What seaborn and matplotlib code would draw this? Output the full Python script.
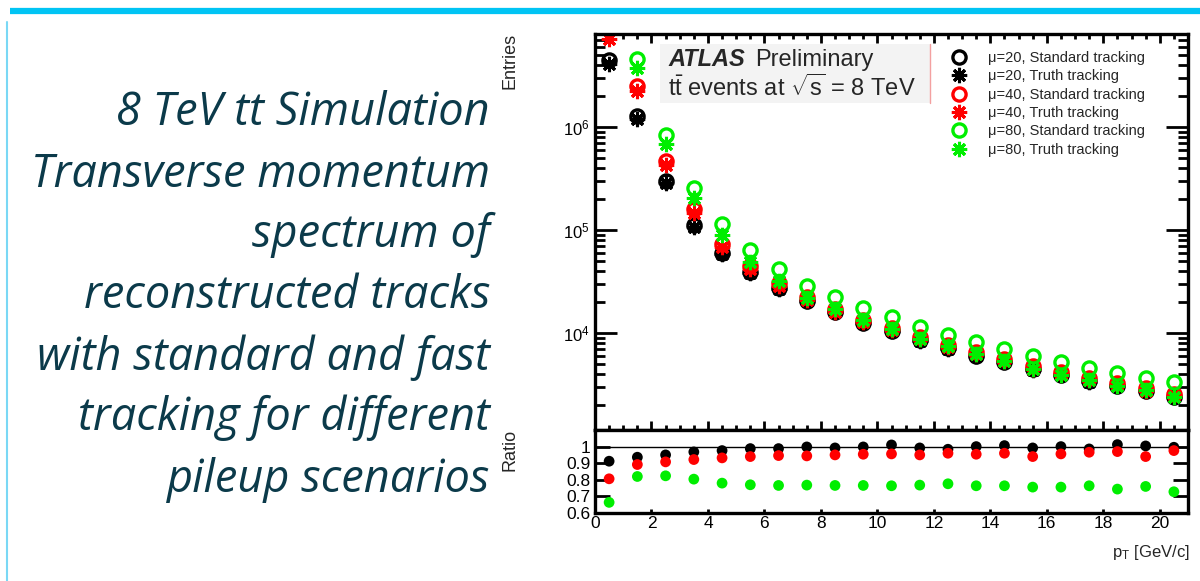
import matplotlib
matplotlib.use("Agg")
import matplotlib.pyplot as plt
import seaborn as sns
from matplotlib.lines import Line2D
from matplotlib.patches import Rectangle
from matplotlib.ticker import LogLocator, MultipleLocator, NullFormatter, FixedLocator, FixedFormatter, NullLocator

# ---------------- data ----------------
pt_centers = [0.5, 1.5, 2.5, 3.5, 4.5, 5.5, 6.5, 7.5, 8.5, 9.5, 10.5,
              11.5, 12.5, 13.5, 14.5, 15.5, 16.5, 17.5, 18.5, 19.5, 20.5]

std_mu20 = [4.47e6, 1.28e6, 2.99e5, 1.12e5, 5.98e4, 3.91e4, 2.74e4, 2.05e4, 1.60e4, 1.25e4, 1.04e4,
            8.55e3, 7.15e3, 5.98e3, 5.23e3, 4.47e3, 3.91e3, 3.42e3, 3.06e3, 2.73e3, 2.39e3]
truth_mu20 = [4.08e6, 1.20e6, 2.84e5, 1.08e5, 5.84e4, 3.86e4, 2.71e4, 2.05e4, 1.59e4, 1.25e4, 1.05e4,
              8.48e3, 7.04e3, 5.98e3, 5.26e3, 4.43e3, 3.91e3, 3.37e3, 3.10e3, 2.74e3, 2.38e3]
std_mu40 = [8.9e6, 2.50e6, 4.68e5, 1.60e5, 7.31e4, 4.47e4, 3.06e4, 2.24e4, 1.71e4, 1.34e4, 1.12e4,
            9.15e3, 7.64e3, 6.54e3, 5.60e3, 4.79e3, 4.18e3, 3.66e3, 3.27e3, 2.92e3, 2.56e3]
truth_mu40 = [7.15e6, 2.23e6, 4.25e5, 1.475e5, 6.81e4, 4.20e4, 2.89e4, 2.11e4, 1.62e4, 1.28e4, 1.07e4,
              8.69e3, 7.33e3, 6.24e3, 5.38e3, 4.50e3, 4.00e3, 3.54e3, 3.17e3, 2.74e3, 2.50e3]
std_mu80 = [1.5e7, 4.57e6, 8.36e5, 2.56e5, 1.14e5, 6.40e4, 4.18e4, 2.86e4, 2.24e4, 1.75e4, 1.43e4,
            1.14e4, 9.57e3, 8.18e3, 7.00e3, 5.98e3, 5.23e3, 4.57e3, 4.09e3, 3.66e3, 3.34e3]
truth_mu80 = [9.96e6, 3.75e6, 6.89e5, 2.06e5, 8.89e4, 4.93e4, 3.20e4, 2.20e4, 1.72e4, 1.34e4, 1.09e4,
              8.76e3, 7.43e3, 6.25e3, 5.35e3, 4.52e3, 3.95e3, 3.49e3, 3.04e3, 2.78e3, 2.43e3]

ratio_mu20 = [0.912, 0.936, 0.950, 0.968, 0.976, 0.988, 0.988, 0.998, 0.992, 0.998, 1.010,
              0.992, 0.984, 1.000, 1.006, 0.992, 1.000, 0.986, 1.012, 1.004, 0.996]
ratio_mu40 = [0.806, 0.892, 0.908, 0.922, 0.932, 0.940, 0.946, 0.944, 0.950, 0.954, 0.956,
              0.950, 0.960, 0.954, 0.960, 0.940, 0.956, 0.966, 0.970, 0.940, 0.976]
ratio_mu80 = [0.664, 0.820, 0.824, 0.804, 0.780, 0.770, 0.766, 0.768, 0.766, 0.766, 0.764,
              0.768, 0.776, 0.764, 0.764, 0.756, 0.756, 0.764, 0.744, 0.760, 0.728]

legend_labels = ["\u03bc=20, Standard tracking", "\u03bc=20, Truth tracking",
                 "\u03bc=40, Standard tracking", "\u03bc=40, Truth tracking",
                 "\u03bc=80, Standard tracking", "\u03bc=80, Truth tracking"]

ratio_ticks = [0.6, 0.7, 0.8, 0.9, 1.0]
ratio_ticklabels = ["0.6", "0.7", "0.8", "0.9", "1"]
x_ticks = [0, 2, 4, 6, 8, 10, 12, 14, 16, 18, 20]

slide_lines = ["8 TeV tt Simulation", "Transverse momentum", "spectrum of",
               "reconstructed tracks", "with standard and fast",
               "tracking for different", "pileup scenarios"]

# ---------------- style ----------------
sns.set_style("ticks")
plt.rcParams['font.family'] = ['Liberation Sans', 'DejaVu Sans']
plt.rcParams['mathtext.fontset'] = 'custom'
plt.rcParams['mathtext.rm'] = 'Liberation Sans'
plt.rcParams['mathtext.it'] = 'Liberation Sans:italic'
plt.rcParams['mathtext.bf'] = 'Liberation Sans:bold'

BLACK, RED, GREEN = '#000000', '#ff0000', '#00ee00'
STAR = (8, 2, 0)

W, H = 1200, 581
fig = plt.figure(figsize=(12, 5.81), dpi=100)
fig.patch.set_facecolor('white')

def fx(px):
    return px / W

def fy(py):
    return 1 - py / H

ax = fig.add_axes([fx(595), fy(430), (1188 - 595) / W, (430 - 34) / H])
axr = fig.add_axes([fx(595), fy(513), (1188 - 595) / W, (513 - 430) / H])

ax.set_yscale('log')

series = [
    (std_mu20, 'o', BLACK), (truth_mu20, STAR, BLACK),
    (std_mu40, 'o', RED), (truth_mu40, STAR, RED),
    (std_mu80, 'o', GREEN), (truth_mu80, STAR, GREEN),
]
handles = []
for vals, mk, c in series:
    if mk == 'o':
        kw = dict(markersize=9.5, markerfacecolor='none', markeredgecolor=c, markeredgewidth=2.4)
    else:
        kw = dict(markersize=11, markerfacecolor=c, markeredgecolor=c, markeredgewidth=2.2)
    sns.lineplot(x=pt_centers, y=vals, ax=ax, marker=mk, linestyle='', color=c,
                 estimator=None, legend=False, **kw)
    handles.append(Line2D([], [], linestyle='', marker=mk, color=c, **kw))

ax.set_xlim(0, 21)
ax.set_ylim(1150, 8.0e6)
ax.yaxis.set_major_locator(LogLocator(base=10, numticks=12))
ax.yaxis.set_minor_locator(LogLocator(base=10, subs=range(2, 10), numticks=12))
ax.yaxis.set_minor_formatter(NullFormatter())
ax.xaxis.set_major_locator(MultipleLocator(2))
ax.xaxis.set_minor_locator(MultipleLocator(0.5))
ax.tick_params(which='both', direction='in', top=True, right=True, width=2.0, colors='black')
ax.tick_params(axis='y', which='major', length=15.5, labelsize=12, pad=4)
ax.tick_params(axis='y', which='minor', length=7.5)
ax.tick_params(axis='x', which='major', length=6.5, labelbottom=False)
ax.tick_params(axis='x', which='minor', length=3.5)
for sp in ax.spines.values():
    sp.set_linewidth(2.4)
    sp.set_color('black')
ax.set_xlabel('')
ax.set_ylabel('')

# ATLAS label box (pasted-in look)
fig.patches.append(Rectangle((fx(660), fy(103)), (930 - 660) / W, (103 - 44) / H,
                             transform=fig.transFigure, facecolor='#f3f3f3',
                             edgecolor='none', zorder=3))
fig.add_artist(Line2D([fx(930), fx(930)], [fy(44), fy(103)], color='#f3a0a0', lw=1.0,
                      transform=fig.transFigure, zorder=4))
fig.text(fx(668), fy(60), 'ATLAS', fontsize=17, fontweight='bold', fontstyle='italic',
         va='center', ha='left', zorder=5)
fig.text(fx(755), fy(60), 'Preliminary', fontsize=17, va='center', ha='left', zorder=5)
fig.text(fx(668), fy(88), r'$\mathrm{t\bar{t}}$ events at $\sqrt{\mathrm{s}}$ = 8 TeV', fontsize=17,
         va='center', ha='left', zorder=5)

leg = ax.legend(handles=handles, labels=legend_labels, loc='upper left',
                bbox_to_anchor=(fx(950), fy(51)), bbox_transform=fig.transFigure,
                frameon=False, fontsize=10.5, handlelength=1.2, handletextpad=1.4,
                labelspacing=0.30, borderpad=0, borderaxespad=0)

# ---------------- ratio panel ----------------
axr.axhline(1.0, color='black', lw=1.0, zorder=1)
for vals, c in [(ratio_mu20, BLACK), (ratio_mu40, RED), (ratio_mu80, GREEN)]:
    sns.scatterplot(x=pt_centers, y=vals, ax=axr, color=c, s=60, edgecolor='none',
                    legend=False, zorder=3)
axr.set_xlim(0, 21)
axr.set_ylim(0.6, 1.1)
axr.yaxis.set_major_locator(FixedLocator(ratio_ticks))
axr.yaxis.set_major_formatter(FixedFormatter(ratio_ticklabels))
axr.yaxis.set_minor_locator(NullLocator())
axr.xaxis.set_major_locator(FixedLocator(x_ticks))
axr.xaxis.set_minor_locator(NullLocator())
axr.tick_params(which='both', direction='in', right=True, top=False, width=2.0, colors='black')
axr.tick_params(axis='y', length=10.5, labelsize=12.5, pad=3)
axr.tick_params(axis='x', length=3.0, labelsize=12.5, pad=2)
for sp in axr.spines.values():
    sp.set_linewidth(2.4)
    sp.set_color('black')
axr.set_xlabel('')
axr.set_ylabel('')

fig.text(fx(510), fy(33), 'Entries', rotation=90, ha='center', va='top', fontsize=13)
fig.text(fx(510), fy(429), 'Ratio', rotation=90, ha='center', va='top', fontsize=13)
fig.text(fx(1190), fy(553), r'p$_{\mathrm{T}}$ [GeV/c]', ha='right', va='center', fontsize=12)

# ---------------- slide decoration & text ----------------
fig.add_artist(Line2D([fx(10), fx(1200)], [fy(11), fy(11)], color='#00c4f4', lw=4.5,
                      transform=fig.transFigure, solid_capstyle='butt'))
fig.add_artist(Line2D([fx(7), fx(7)], [fy(22), fy(581)], color='#7ad8f5', lw=1.5,
                      transform=fig.transFigure))

baselines = [125, 187, 247, 308, 370, 430, 492]
for line, by in zip(slide_lines, baselines):
    fig.text(fx(490), fy(by), line, ha='right', va='baseline', fontsize=32.5,
             fontstyle='italic', color='#0b3a4a', family=['Open Sans', 'DejaVu Sans'])

fig.savefig('out.png', dpi=100, facecolor='white')
